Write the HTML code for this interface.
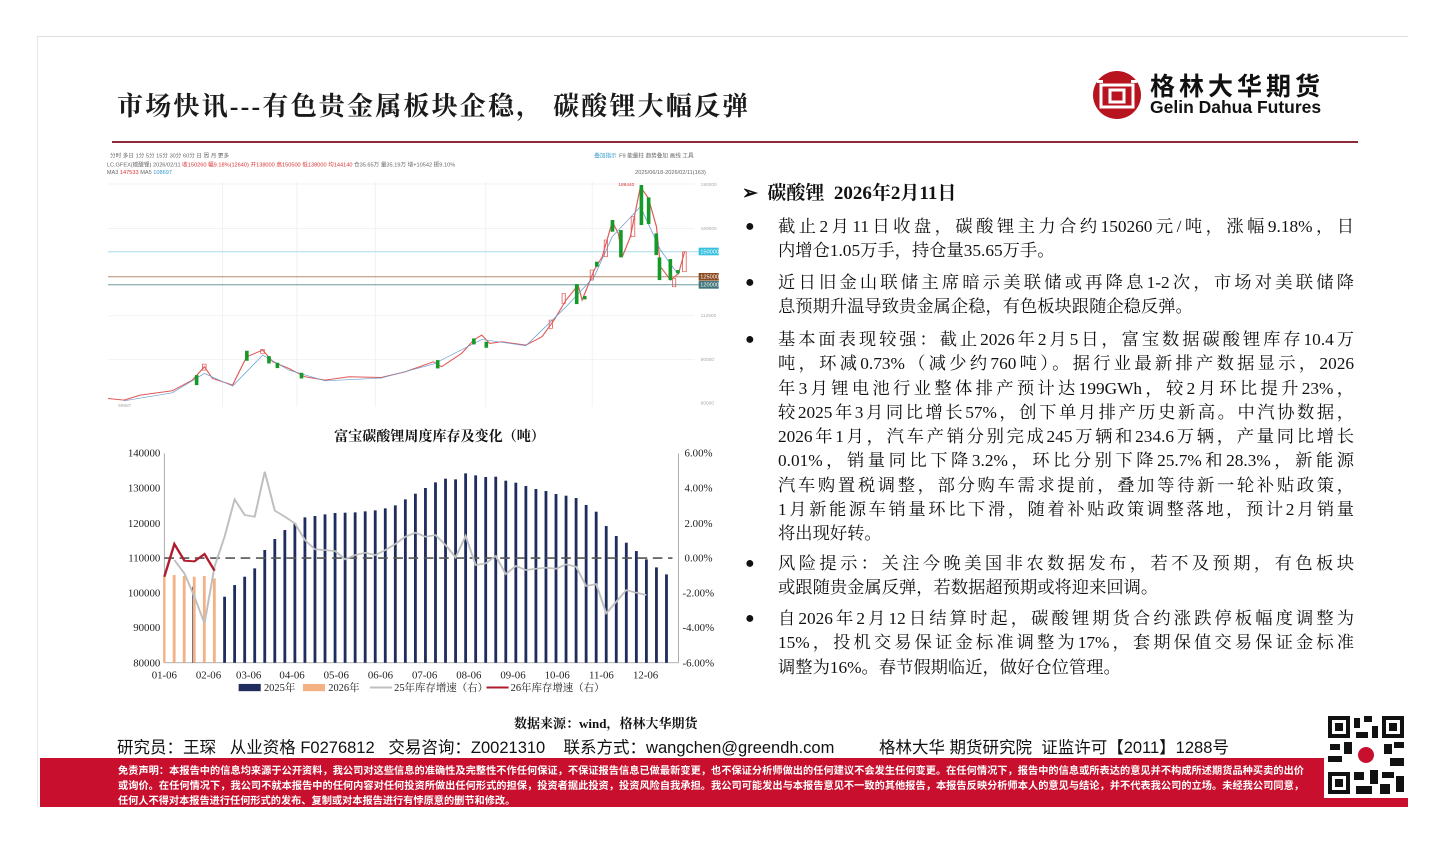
<!DOCTYPE html>
<html><head><meta charset="utf-8"><style>
body{margin:0;width:1444px;height:844px;background:#fff;position:relative;overflow:hidden;font-family:"Liberation Sans","Noto Sans CJK SC",sans-serif}
.a{position:absolute}
.frame{left:38px;top:36px;width:1370px;height:1px;background:#ddd}
.framel{left:37px;top:36px;width:1px;height:770px;background:#e6e6e6}
.title{left:117px;top:86px;font:bold 26px "Liberation Serif","Noto Serif CJK SC",serif;color:#1a1a1a;letter-spacing:2.2px;white-space:nowrap}
.rline{left:112px;top:141px;width:1246px;height:2px;background:#8e2a3c}
.txt{left:778px;width:576px;font:17.3px "Liberation Serif","Noto Serif CJK SC",serif;color:#111}
.txt div{height:24.3px;line-height:24.3px;white-space:nowrap}
.j{text-align:justify;text-align-last:justify;white-space:normal!important}
.b{position:absolute;left:-33px;font-size:16px}
.band{left:40px;top:758px;width:1368px;height:49px;background:#c8102e}
.band div{color:#fff;font-size:10.2px;font-weight:bold;line-height:15px;padding:6px 0 0 78px;width:1186px;text-align:justify}
</style></head><body>
<div class="a frame"></div><div class="a framel"></div>
<div class="a title">市场快讯---有色贵金属板块企稳， 碳酸锂大幅反弹</div>
<svg class="a" style="left:1092px;top:70px" width="50" height="50" viewBox="0 0 50 50">
<circle cx="25" cy="25" r="24" fill="#b8141f"/>
<rect x="9" y="15" width="32" height="22" fill="none" stroke="#fff" stroke-width="3"/>
<rect x="18" y="20" width="14" height="12" fill="none" stroke="#fff" stroke-width="3"/>
<rect x="5" y="10" width="6" height="3" fill="#fff"/><rect x="39" y="10" width="6" height="3" fill="#fff"/>
</svg>
<div class="a" style="left:1150px;top:70px;font:bold 25px 'Noto Sans CJK SC',sans-serif;letter-spacing:4px;color:#111;line-height:30px">格林大华期货</div>
<div class="a" style="left:1150px;top:97px;font:bold 17.5px 'Liberation Sans',sans-serif;color:#111">Gelin Dahua Futures</div>
<div class="a rline"></div>

<!-- candle chart -->
<svg class="a" style="left:100px;top:140px" width="630" height="270" viewBox="0 0 1568 672">
<g font-size="14" fill="#666">
<text x="25" y="44">分时 多日 1分 5分 15分 30分 60分 日 周 月 更多</text>
<text x="17" y="66">LC.GFEX(碳酸锂) 2026/02/11 <tspan fill="#d33">收150260 幅9.18%(12640) 开138000 高150500 低138000 均144140</tspan> 仓35.65万 量35.19万 增+10542 振9.10%</text>
<text x="17" y="85">MA3 <tspan fill="#d33">147533</tspan> MA5 <tspan fill="#39c">108697</tspan></text>
<text x="1230" y="44" fill="#39c">叠加指示</text><text x="1292" y="44">F9 能量柱 趋势叠加 画线 工具</text>
<text x="1332" y="85">2025/06/18-2026/02/11(163)</text>
</g>
<g transform="scale(1,0.83)">
<g stroke="#eee" stroke-width="2">
<line x1="20" y1="132" x2="1480" y2="132"/><line x1="20" y1="265" x2="1480" y2="265"/><line x1="20" y1="527" x2="1480" y2="527"/><line x1="20" y1="658" x2="1480" y2="658"/>
<line x1="305" y1="125" x2="305" y2="800"/><line x1="490" y1="125" x2="490" y2="800"/><line x1="685" y1="125" x2="685" y2="800"/><line x1="960" y1="125" x2="960" y2="800"/><line x1="1225" y1="125" x2="1225" y2="800"/>
</g>
<line x1="20" y1="335" x2="1490" y2="335" stroke="#a8dce8" stroke-width="3"/>
<line x1="20" y1="410" x2="1490" y2="410" stroke="#b88a70" stroke-width="3"/>
<line x1="20" y1="434" x2="1490" y2="434" stroke="#6f9aa0" stroke-width="3"/>
<polyline fill="none" stroke="#e05a5a" stroke-width="3" points="20,775 60,780 100,765 180,752 230,720 260,680 280,715 330,735 365,650 405,630 430,665 470,685 510,710 560,720 620,710 700,712 760,695 830,665 850,680 900,640 930,600 950,585 970,610 1000,605 1060,615 1100,590 1130,540 1160,480 1190,435 1200,480 1230,390 1250,350 1275,245 1290,280 1300,350 1320,290 1345,140 1365,175 1385,260 1395,380 1420,420 1440,400 1455,335"/>
<polyline fill="none" stroke="#6a9fd0" stroke-width="2" points="60,782 180,758 260,700 330,738 405,645 470,690 560,722 700,714 830,672 950,598 1060,617 1160,500 1230,410 1275,290 1345,200 1395,330 1440,405"/>
<g fill="#159a2a">
<rect x="236" y="705" width="9" height="30"/><rect x="361" y="632" width="9" height="30"/><rect x="416" y="648" width="9" height="22"/><rect x="437" y="668" width="9" height="16"/><rect x="497" y="698" width="9" height="17"/><rect x="836" y="660" width="9" height="25"/><rect x="926" y="595" width="9" height="18"/><rect x="957" y="605" width="9" height="18"/><rect x="1182" y="432" width="9" height="60"/><rect x="1202" y="468" width="9" height="10"/><rect x="1232" y="365" width="9" height="15"/><rect x="1271" y="240" width="9" height="35"/><rect x="1292" y="270" width="9" height="82"/><rect x="1343" y="135" width="9" height="120"/><rect x="1361" y="172" width="9" height="80"/><rect x="1380" y="280" width="9" height="65"/><rect x="1388" y="352" width="9" height="68"/><rect x="1415" y="357" width="9" height="63"/><rect x="1434" y="390" width="9" height="10"/>
</g>
<g fill="none" stroke="#e05a5a" stroke-width="2">
<rect x="1450" y="335" width="9" height="60"/><rect x="1425" y="415" width="8" height="25"/><rect x="1322" y="230" width="9" height="60"/><rect x="1255" y="300" width="8" height="50"/><rect x="1220" y="390" width="8" height="30"/><rect x="1150" y="460" width="8" height="30"/><rect x="1118" y="540" width="8" height="25"/><rect x="255" y="672" width="9" height="18"/><rect x="400" y="628" width="9" height="12"/>
</g>
</g>
<g font-size="14">
<rect x="1490" y="268" width="50" height="19" fill="#35c0e0"/><text x="1494" y="282" fill="#fff">150000</text>
<rect x="1490" y="331" width="50" height="19" fill="#8a4a20"/><text x="1494" y="345" fill="#fff">125000</text>
<rect x="1490" y="351" width="50" height="19" fill="#3f7478"/><text x="1494" y="365" fill="#fff">120000</text>
</g>
<g font-size="12" fill="#aaa"><text x="1495" y="114">190000</text><text x="1495" y="224">160000</text><text x="1495" y="441">112500</text><text x="1495" y="550">90000</text><text x="1495" y="658">80000</text><text x="1290" y="115" fill="#d33">189440</text><text x="45" y="664">59887</text></g>
</svg>

<!-- bar chart -->
<svg class="a" style="left:100px;top:420px" width="630" height="280" viewBox="0 0 1568 697" font-family="Liberation Serif,Noto Serif CJK SC,serif">
<text x="845" y="52" text-anchor="middle" font-size="35" font-weight="bold" fill="#111">富宝碳酸锂周度库存及变化（吨）</text>
<g font-size="27" fill="#222">
<text x="150" y="91" text-anchor="end">140000</text><text x="150" y="178" text-anchor="end">130000</text><text x="150" y="266" text-anchor="end">120000</text><text x="150" y="352" text-anchor="end">110000</text><text x="150" y="439" text-anchor="end">100000</text><text x="150" y="525" text-anchor="end">90000</text><text x="150" y="613" text-anchor="end">80000</text>
<text x="1455" y="91">6.00%</text><text x="1455" y="178">4.00%</text><text x="1455" y="266">2.00%</text><text x="1455" y="352">0.00%</text><text x="1450" y="439">-2.00%</text><text x="1450" y="525">-4.00%</text><text x="1450" y="613">-6.00%</text>
<g text-anchor="middle"><text x="160" y="643">01-06</text><text x="270" y="643">02-06</text><text x="370" y="643">03-06</text><text x="478" y="643">04-06</text><text x="588" y="643">05-06</text><text x="698" y="643">06-06</text><text x="808" y="643">07-06</text><text x="918" y="643">08-06</text><text x="1028" y="643">09-06</text><text x="1138" y="643">10-06</text><text x="1248" y="643">11-06</text><text x="1358" y="643">12-06</text></g>
</g>
<g transform="scale(1,0.83)">
<line x1="160" y1="100" x2="160" y2="728" stroke="#999" stroke-width="2"/>
<line x1="160" y1="728" x2="1440" y2="728" stroke="#999" stroke-width="2"/>
<line x1="1440" y1="100" x2="1440" y2="728" stroke="#999" stroke-width="2"/>
<g fill="#1f2d5e" id="bars"></g>
<g fill="#f4b183">
<rect x="181" y="465" width="7" height="263"/><rect x="206" y="468" width="7" height="260"/><rect x="231" y="470" width="7" height="258"/><rect x="256" y="468" width="7" height="260"/><rect x="281" y="475" width="7" height="253"/><rect x="157" y="470" width="6" height="258"/>
</g>
<line x1="160" y1="414" x2="1425" y2="414" stroke="#555" stroke-width="5" stroke-dasharray="24,14"/>
<polyline fill="none" stroke="#bfbfbf" stroke-width="5" points="185,420 210,460 235,530 260,610 285,440 310,350 335,238 360,285 385,290 410,155 435,272 460,290 485,310 510,360 535,388 560,390 585,393 610,418 635,405 660,398 685,405 710,390 735,372 760,350 785,338 810,350 835,345 860,375 885,412 910,348 935,435 960,430 985,408 1010,462 1035,438 1060,450 1085,446 1110,443 1135,446 1160,433 1185,440 1210,498 1235,492 1260,580 1285,545 1310,510 1335,518 1360,525"/>
<polyline fill="none" stroke="#b01c2e" stroke-width="6" points="160,470 185,372 210,422 235,424 260,402 285,452"/>
</g>
<g font-size="26" fill="#222">
<rect x="345" y="657" width="55" height="18" fill="#1f2d5e"/><text x="408" y="674">2025年</text>
<rect x="505" y="657" width="55" height="18" fill="#f4b183"/><text x="568" y="674">2026年</text>
<line x1="672" y1="666" x2="727" y2="666" stroke="#bfbfbf" stroke-width="5"/><text x="732" y="674">25年库存增速（右）</text>
<line x1="962" y1="666" x2="1017" y2="666" stroke="#b01c2e" stroke-width="5"/><text x="1022" y="674">26年库存增速（右）</text>
</g>
</svg>

<div class="a" style="left:742px;top:178px;font:bold 19px 'Liberation Serif','Noto Serif CJK SC',serif;color:#111">➢ &nbsp;碳酸锂 &nbsp;2026年2月11日</div>
<div class="a txt" style="top:215px">
<div style="position:relative" class="j"><span class="b">●</span>截止2月11日收盘，碳酸锂主力合约150260元/吨，涨幅9.18%，日</div>
<div>内增仓1.05万手，持仓量35.65万手。</div>
</div>
<div class="a txt" style="top:271px">
<div style="position:relative" class="j"><span class="b">●</span>近日旧金山联储主席暗示美联储或再降息1-2次，市场对美联储降</div>
<div>息预期升温导致贵金属企稳，有色板块跟随企稳反弹。</div>
</div>
<div class="a txt" style="top:328px">
<div style="position:relative" class="j"><span class="b">●</span>基本面表现较强：截止2026年2月5日，富宝数据碳酸锂库存10.4万</div>
<div class="j">吨，环减0.73%（减少约760吨）。据行业最新排产数据显示，2026</div>
<div class="j">年3月锂电池行业整体排产预计达199GWh，较2月环比提升23%，</div>
<div class="j">较2025年3月同比增长57%，创下单月排产历史新高。中汽协数据，</div>
<div class="j">2026年1月，汽车产销分别完成245万辆和234.6万辆，产量同比增长</div>
<div class="j">0.01%，销量同比下降3.2%，环比分别下降25.7%和28.3%，新能源</div>
<div class="j">汽车购置税调整，部分购车需求提前，叠加等待新一轮补贴政策，</div>
<div class="j">1月新能源车销量环比下滑，随着补贴政策调整落地，预计2月销量</div>
<div>将出现好转。</div>
</div>
<div class="a txt" style="top:552px">
<div style="position:relative" class="j"><span class="b">●</span>风险提示：关注今晚美国非农数据发布，若不及预期，有色板块</div>
<div>或跟随贵金属反弹，若数据超预期或将迎来回调。</div>
</div>
<div class="a txt" style="top:607px">
<div style="position:relative" class="j"><span class="b">●</span>自2026年2月12日结算时起，碳酸锂期货合约涨跌停板幅度调整为</div>
<div class="j">15%，投机交易保证金标准调整为17%，套期保值交易保证金标准</div>
<div>调整为16%。春节假期临近，做好仓位管理。</div>
</div>

<div class="a" style="left:514px;top:713px;font:bold 13px 'Liberation Serif','Noto Serif CJK SC',serif;color:#111">数据来源：wind，格林大华期货</div>
<div class="a" style="left:117px;top:734px;font-size:16.5px;color:#111;white-space:nowrap">研究员：王琛 &nbsp;&nbsp;从业资格 F0276812 &nbsp;&nbsp;交易咨询：Z0021310 &nbsp;&nbsp;&nbsp;联系方式：wangchen@greendh.com <span style="margin-left:40px">格林大华 期货研究院 &nbsp;证监许可【2011】1288号</span></div>
<div class="a band"><div>免责声明：本报告中的信息均来源于公开资料，我公司对这些信息的准确性及完整性不作任何保证，不保证报告信息已做最新变更，也不保证分析师做出的任何建议不会发生任何变更。在任何情况下，报告中的信息或所表达的意见并不构成所述期货品种买卖的出价或询价。在任何情况下，我公司不就本报告中的任何内容对任何投资所做出任何形式的担保，投资者据此投资，投资风险自我承担。我公司可能发出与本报告意见不一致的其他报告，本报告反映分析师本人的意见与结论，并不代表我公司的立场。未经我公司同意，任何人不得对本报告进行任何形式的发布、复制或对本报告进行有悖原意的删节和修改。</div></div>
<svg class="a" style="left:1324px;top:712px" width="84" height="86" viewBox="0 0 84 86">
<rect width="84" height="86" fill="#fff"/>
<g fill="#111">
<rect x="4" y="4" width="22" height="22"/><rect x="58" y="4" width="22" height="22"/><rect x="4" y="60" width="22" height="22"/>
<rect x="30" y="6" width="6" height="10"/><rect x="40" y="4" width="8" height="6"/><rect x="32" y="20" width="12" height="6"/><rect x="48" y="14" width="6" height="12"/>
<rect x="6" y="32" width="10" height="6"/><rect x="20" y="30" width="8" height="12"/><rect x="4" y="44" width="14" height="6"/><rect x="60" y="32" width="8" height="10"/><rect x="70" y="30" width="10" height="6"/><rect x="66" y="46" width="14" height="8"/>
<rect x="30" y="60" width="10" height="8"/><rect x="46" y="58" width="8" height="14"/><rect x="58" y="60" width="12" height="6"/><rect x="72" y="64" width="8" height="16"/><rect x="32" y="74" width="16" height="8"/><rect x="56" y="72" width="10" height="10"/>
</g>
<g fill="#fff"><rect x="8" y="8" width="14" height="14"/><rect x="62" y="8" width="14" height="14"/><rect x="8" y="64" width="14" height="14"/></g>
<g fill="#111"><rect x="11" y="11" width="8" height="8"/><rect x="65" y="11" width="8" height="8"/><rect x="11" y="67" width="8" height="8"/></g>
<circle cx="42" cy="43" r="8" fill="#c8102e"/>
</svg>
<script>
var b=[[233,500],[310,530],[335,495],[360,470],[385,445],[410,390],[435,357],[460,330],[485,310],[510,292],[535,288],[560,283],[585,279],[610,278],[635,277],[660,274],[685,271],[710,265],[735,256],[760,238],[785,221],[810,204],[835,187],[860,176],[885,178],[910,160],[935,166],[960,171],[985,170],[1010,182],[1035,188],[1060,198],[1085,207],[1110,213],[1135,222],[1160,227],[1185,234],[1210,255],[1235,275],[1260,318],[1285,348],[1310,368],[1335,393],[1360,418],[1385,442],[1410,463]];
var g=document.getElementById('bars'),s='';
b.forEach(function(p){s+='<rect x="'+(p[0]-3.5)+'" y="'+p[1]+'" width="7" height="'+(728-p[1])+'"/>';});
g.innerHTML=s;
</script>
</body></html>
